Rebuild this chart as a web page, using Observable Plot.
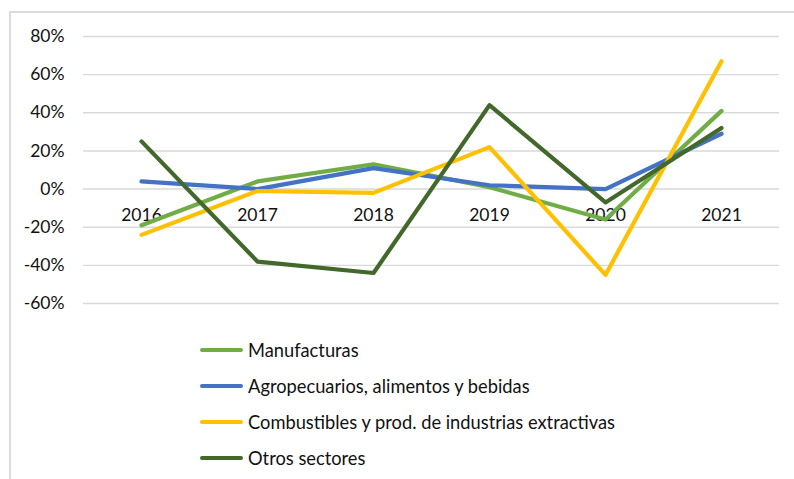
<!DOCTYPE html>
<html>
<head>
<meta charset="utf-8">
<script src="https://cdn.jsdelivr.net/npm/d3@7"></script>
<script src="https://cdn.jsdelivr.net/npm/@observablehq/plot@0.6"></script>
<style>
  html, body { margin: 0; padding: 0; background: #fff; }
  body { width: 794px; height: 479px; position: relative; overflow: hidden; font-family: Lato, "Open Sans", sans-serif; }
  #chart { position: absolute; left: 0; top: 0; }
  #frame { position: absolute; left: 9px; top: 11px; width: 800px; height: 480px; border-left: 2px solid #dcdcdc; border-top: 2px solid #dcdcdc; pointer-events: none; z-index: 5; }
  #legend { position: absolute; left: 200px; top: 332px; }
  .row { display: flex; align-items: center; height: 36px; font-size: 18.3px; color: #111; }
  .sw { width: 43px; height: 4px; border-radius: 2px; margin-right: 5px; }
</style>
</head>
<body>
<div id="frame"></div>
<div id="chart"></div>
<div id="legend"></div>
<script>
const years = ["2016", "2017", "2018", "2019", "2020", "2021"];
const seriesNames = [
  "Manufacturas",
  "Agropecuarios, alimentos y bebidas",
  "Combustibles y prod. de industrias extractivas",
  "Otros sectores"
];
const manufacturas = [-19, 4, 13, 1, -16, 41];
const agropecuarios = [4, 0, 11, 2, 0, 29];
const combustibles = [-24, -1, -2, 22, -45, 67];
const otros = [25, -38, -44, 44, -7, 32];
const seriesColors = ["#70AD47", "#4472C4", "#FFC000", "#43682B"];
const yTicks = [-60, -40, -20, 0, 20, 40, 60, 80];

const seriesValues = [manufacturas, agropecuarios, combustibles, otros];
const rows = seriesNames.flatMap((s, i) =>
  years.map((y, j) => ({ series: s, year: y, value: seriesValues[i][j] }))
);

const fontFamily = "Lato, 'Open Sans', sans-serif";

const chart = Plot.plot({
  width: 794,
  height: 325,
  marginTop: 36,
  marginBottom: 22,
  marginLeft: 83,
  marginRight: 15,
  style: { fontFamily, fontSize: "17.5px", color: "#111", background: "transparent", overflow: "visible" },
  x: { type: "point", domain: years, padding: 0.5, axis: null },
  y: { domain: [-60, 80], label: null },
  color: { domain: seriesNames, range: seriesColors },
  marks: [
    Plot.gridY(yTicks, { stroke: "#d9d9d9", strokeOpacity: 1, strokeWidth: 1.4 }),
    Plot.axisY(yTicks, { tickSize: 0, tickPadding: 19, tickFormat: d => d + "%", fontSize: 17.5, label: null }),
    Plot.text(years, { x: d => d, y: () => 0, dy: 26, text: d => d, fontSize: 17.5, fill: "#111" }),
    Plot.lineY(rows, { x: "year", y: "value", z: "series", stroke: "series", strokeWidth: 4.2 })
  ]
});
document.getElementById("chart").appendChild(chart);

const legend = document.getElementById("legend");
seriesNames.forEach((s, i) => {
  const row = document.createElement("div");
  row.className = "row";
  const sw = document.createElement("div");
  sw.className = "sw";
  sw.style.background = seriesColors[i];
  const t = document.createElement("span");
  t.textContent = s;
  row.appendChild(sw);
  row.appendChild(t);
  legend.appendChild(row);
});
</script>
</body>
</html>
